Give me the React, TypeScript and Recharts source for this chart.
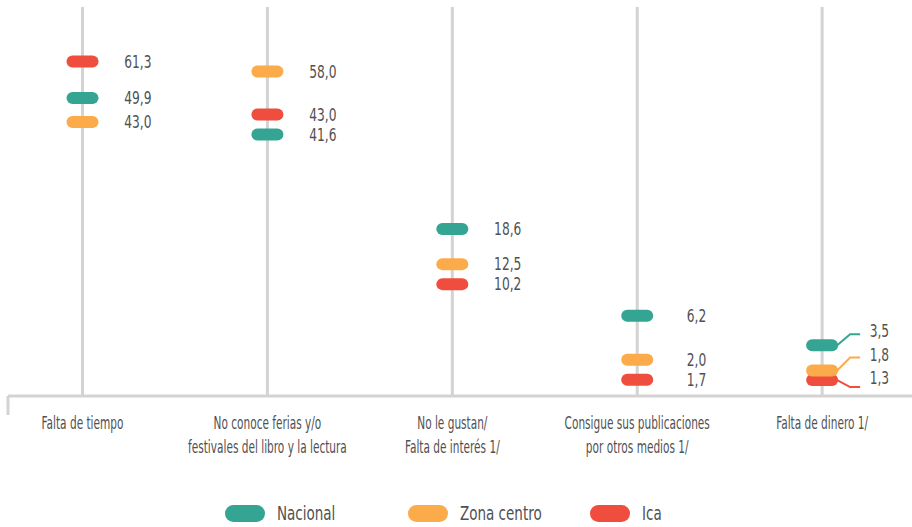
import { ComposedChart, Line, XAxis, YAxis, ReferenceLine, Legend } from "recharts";

// Motivos por los que no asistió a ferias / festivales del libro (%)
const categories = [
  "Falta de tiempo",
  "No conoce ferias y/o festivales del libro y la lectura",
  "No le gustan/ Falta de interés 1/",
  "Consigue sus publicaciones por otros medios 1/",
  "Falta de dinero 1/",
];
const tickLabels = [
  ["Falta de tiempo"],
  ["No conoce ferias y/o", "festivales del libro y la lectura"],
  ["No le gustan/", "Falta de interés 1/"],
  ["Consigue sus publicaciones", "por otros medios 1/"],
  ["Falta de dinero 1/"],
];
const nacional = [49.9, 41.6, 18.6, 6.2, 3.5];
const zonaCentro = [43.0, 58.0, 12.5, 2.0, 1.8];
const ica = [61.3, 43.0, 10.2, 1.7, 1.3];

const FONT = '"DejaVu Sans Condensed", "DejaVu Sans", sans-serif';
const TEXT = "#505153";
const GRID = "#d3d3d3";

// orden de dibujo (Zona centro encima de Ica)
const series = [
  { key: "nacional", name: "Nacional", color: "#35a593" },
  { key: "ica", name: "Ica", color: "#ef4e3e" },
  { key: "zonaCentro", name: "Zona centro", color: "#fbab4a" },
];
const legendOrder = ["nacional", "zonaCentro", "ica"];

const rows = categories.map((name, i) => ({
  idx: i,
  name,
  nacional: nacional[i],
  zonaCentro: zonaCentro[i],
  ica: ica[i],
}));

const W = 912;
const H = 527;
const X_MIN = -0.403;
const X_MAX = 4.486;
const Y_DOMAIN: [number, number] = [0.65, 80.5];
const PLOT_TOP = 7;
const PLOT_BOTTOM = 396;
const MIN_GAP = 20;
const LEADER_INDEX = 4;

// linea guia para la ultima categoria
const leaders: Record<string, { line: number; text: number }> = {
  nacional: { line: -11, text: -14 },
  zonaCentro: { line: -13, text: -16 },
  ica: { line: 7, text: -2 },
};

const pxPerRoot =
  (PLOT_BOTTOM - PLOT_TOP) / (Math.sqrt(Y_DOMAIN[1]) - Math.sqrt(Y_DOMAIN[0]));

// separa pastillas que quedan muy juntas
function placeY(row: any, key: string, cy: number) {
  if (row.idx === LEADER_INDEX) return cy;
  const base = Math.sqrt(row[key]);
  const items = series
    .map((s) => ({ k: s.key, y: cy + (base - Math.sqrt(row[s.key])) * pxPerRoot }))
    .sort((a, b) => a.y - b.y);
  for (let it = 0; it < 10; it++) {
    for (let i = 0; i < items.length - 1; i++) {
      const gap = items[i + 1].y - items[i].y;
      if (gap < MIN_GAP) {
        const s = (MIN_GAP - gap) / 2;
        items[i].y -= s;
        items[i + 1].y += s;
      }
    }
  }
  return items.find((i) => i.k === key)!.y;
}

const fmt = (v: number) => v.toFixed(1).replace(".", ",");

const ValueText = ({ x, y, value }: { x: number; y: number; value: number }) => (
  <text
    transform={`translate(${x} ${y}) scale(0.8 1)`}
    dy="0.36em"
    textAnchor="end"
    fill={TEXT}
    fontSize={17}
    fontFamily={FONT}
  >
    {fmt(value)}
  </text>
);

const makeDot = (key: string, color: string) => (props: any) => {
  const { cx, cy, index } = props;
  if (cx == null || cy == null) return <g key={`d-${key}-${index}`} />;
  const y = placeY(rows[index], key, cy);
  return (
    <rect
      key={`d-${key}-${index}`}
      x={cx - 16}
      y={y - 6}
      width={32}
      height={12}
      rx={6}
      fill={color}
    />
  );
};

const makeLabel = (key: string, color: string) => (props: any) => {
  const { x, y, index, value } = props;
  const yy = placeY(rows[index], key, y);
  const lead = index === LEADER_INDEX ? leaders[key] : null;
  if (!lead) {
    return (
      <g key={`l-${key}-${index}`}>
        <ValueText x={x + 69} y={yy} value={value} />
      </g>
    );
  }
  return (
    <g key={`l-${key}-${index}`}>
      <polyline
        points={`${x + 15},${yy} ${x + 28},${yy + lead.line} ${x + 38},${yy + lead.line}`}
        fill="none"
        stroke={color}
        strokeWidth={2}
      />
      <ValueText x={x + 67} y={yy + lead.text} value={value} />
    </g>
  );
};

function CategoryTick({ x, y, payload }: any) {
  const v = payload.value;
  if (v === X_MIN) {
    return <line x1={x} y1={y} x2={x} y2={y + 19} stroke={GRID} strokeWidth={3} />;
  }
  const lines = tickLabels[v] ?? [];
  return (
    <text
      transform={`translate(${x} ${y + 33}) scale(0.69 1)`}
      textAnchor="middle"
      fill={TEXT}
      fontSize={17}
      fontFamily={FONT}
    >
      {lines.map((l, i) => (
        <tspan key={i} x={0} dy={i === 0 ? 0 : 24}>
          {l}
        </tspan>
      ))}
    </text>
  );
}

function LegendContent() {
  return (
    <div style={{ position: "relative", width: W, height: 28 }}>
      {legendOrder.map((k, i) => {
        const s = series.find((x) => x.key === k)!;
        return (
          <div
            key={k}
            style={{
              position: "absolute",
              left: 225 + i * 182.5,
              top: 0,
              height: 28,
              display: "flex",
              alignItems: "center",
            }}
          >
            <span
              style={{
                display: "inline-block",
                width: 40,
                height: 17,
                borderRadius: 8.5,
                background: s.color,
              }}
            />
            <span
              style={{
                marginLeft: 12,
                fontFamily: FONT,
                fontSize: 20,
                color: TEXT,
                lineHeight: "28px",
                whiteSpace: "nowrap",
                transform: "scaleX(0.75)",
                transformOrigin: "left center",
              }}
            >
              {s.name}
            </span>
          </div>
        );
      })}
    </div>
  );
}

export default function App() {
  return (
    <div style={{ position: "absolute", left: 0, top: 0, width: W, height: H, background: "#fff" }}>
      <ComposedChart
        width={W}
        height={H}
        data={rows}
        margin={{ top: PLOT_TOP, right: 0, bottom: 0, left: 8 }}
      >
        <XAxis
          type="number"
          dataKey="idx"
          domain={[X_MIN, X_MAX]}
          ticks={[X_MIN, 0, 1, 2, 3, 4]}
          interval={0}
          tick={<CategoryTick />}
          tickLine={false}
          tickSize={0}
          tickMargin={0}
          axisLine={{ stroke: GRID, strokeWidth: 3 }}
          height={103}
          allowDataOverflow
        />
        <YAxis type="number" scale="sqrt" domain={Y_DOMAIN} hide allowDataOverflow />
        {categories.map((c, i) => (
          <ReferenceLine key={c} x={i} stroke={GRID} strokeWidth={3} />
        ))}
        <Legend verticalAlign="bottom" content={<LegendContent />} wrapperStyle={{ left: 0, width: W }} />
        {series.map((s) => (
          <Line
            key={s.key}
            dataKey={s.key}
            name={s.name}
            stroke="none"
            dot={makeDot(s.key, s.color)}
            activeDot={false}
            label={makeLabel(s.key, s.color)}
            isAnimationActive={false}
          />
        ))}
      </ComposedChart>
    </div>
  );
}
